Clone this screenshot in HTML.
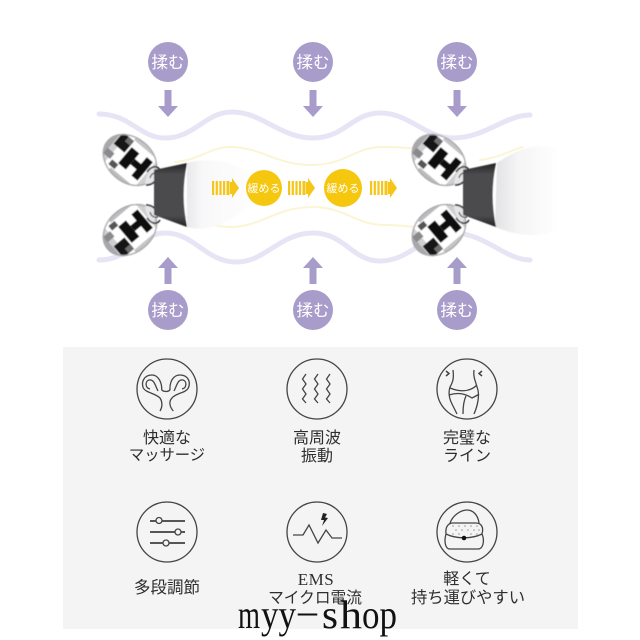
<!DOCTYPE html>
<html><head><meta charset="utf-8">
<style>
html,body{margin:0;padding:0;background:#fff}
svg{display:block}
text{font-family:"Liberation Sans","Noto Sans CJK JP",sans-serif}
.m{font-size:16.5px;fill:#fff;text-anchor:middle}
.y{font-size:11px;fill:#fff;text-anchor:middle}
.l{font-size:16px;fill:#2e2e2e;text-anchor:middle}
.i{fill:none;stroke:#444;stroke-width:1.3}
.w{font-family:"Liberation Serif","Noto Serif CJK SC",serif;font-size:40px;fill:#111}
</style></head><body>
<svg width="640" height="640" viewBox="0 0 640 640" xmlns="http://www.w3.org/2000/svg">
<defs>
<linearGradient id="hl" x1="0" x2="1" y1="0" y2="0"><stop offset="0" stop-color="#e9e9eb"/><stop offset=".2" stop-color="#f8f8f9"/><stop offset="1" stop-color="#fff"/></linearGradient>
<linearGradient id="hr" x1="0" x2="1" y1="0" y2="0"><stop offset="0" stop-color="#e2e2e5"/><stop offset=".35" stop-color="#f5f5f6"/><stop offset="1" stop-color="#fff"/></linearGradient>
<linearGradient id="neck" x1="0" x2="0" y1="0" y2="1"><stop offset="0" stop-color="#222224"/><stop offset=".18" stop-color="#4c4c4e"/><stop offset=".82" stop-color="#4c4c4e"/><stop offset="1" stop-color="#222224"/></linearGradient>
<filter id="b"><feGaussianBlur stdDeviation=".5"/></filter>
<clipPath id="bc"><ellipse cx="0" cy="0" rx="30" ry="23"/></clipPath>
<g id="ball">
<g clip-path="url(#bc)">
<ellipse cx="0" cy="0" rx="30" ry="23" fill="#fff"/>
<rect x="-30" y="-23" width="6" height="46" fill="#a8a8ab"/>
<rect x="-24" y="-23" width="6" height="46" fill="#cfcfd2"/>
<rect x="-23" y="-17" width="14" height="15" fill="#161616"/>
<rect x="-16" y="-17" width="7" height="6" fill="#6e6e70"/>
<rect x="-25" y="5" width="9" height="7" fill="#8a8a8d"/>
<rect x="-10" y="-23" width="30" height="5" fill="#c4c4c7"/>
<rect x="-10" y="18" width="30" height="5" fill="#bcbcbf"/>
<rect x="-7" y="-11" width="10" height="21" fill="#0f0f0f"/>
<rect x="3" y="-4" width="9" height="7" fill="#0f0f0f"/>
<rect x="11" y="-13" width="8" height="24" fill="#0f0f0f"/>
<rect x="-14" y="11" width="8" height="6" fill="#555"/>
<rect x="21" y="-16" width="9" height="32" fill="#cfcfd2"/>
</g>
<ellipse cx="0" cy="0" rx="29.300" ry="22.300" fill="none" stroke="#a8a8ac" stroke-width="1.300"/>
</g>
<g id="sil">
<path d="M145 184C151 186 157 181 157 175L153 168C149 170 146 176 145 184Z" fill="#e6e6e8"/>
<path d="M146 185C152 185 157 181 157 176" fill="none" stroke="#222" stroke-width="1.600"/>
<path d="M147 172C151 166 157 165 160 170" fill="none" stroke="#222" stroke-width="1.500"/>
<path d="M150 178C151 174 154 172 158 173" fill="none" stroke="#444" stroke-width="1.200"/>
</g>
<path id="ad" d="M-3.500 0h7v16h6.500l-10 11l-10 -11h6.500z" fill="#a89cca"/>
<g id="ya">
<rect x="0" y="-7" width="2.200" height="14" fill="#f5c518"/>
<rect x="3.700" y="-7" width="2.200" height="14" fill="#f5c518"/>
<rect x="7.400" y="-7" width="2.200" height="14" fill="#f5c518"/>
<rect x="11" y="-7" width="2.200" height="14" fill="#f5c518"/>
<rect x="14.500" y="-7" width="3" height="14" fill="#f5c518"/>
<path d="M18 -6h2v-4l7 10l-7 10v-4h-2z" fill="#f5c518"/>
</g>
</defs>

<rect x="63" y="347" width="515" height="282" fill="#f4f4f4"/>

<g fill="none" stroke-linecap="round">
<path d="M99 114C130 114 140 138 165 138C195 138 205 112 232 112C262 112 280 138 313 138C345 138 352 113 380 113C410 113 425 138 453 138C485 138 505 115 530 115" stroke="#e7e4f6" stroke-width="5"/>
<path d="M99 260C130 260 140 233 165 233C195 233 205 262 237 262C265 262 280 233 313 233C345 233 352 261 380 261C410 261 425 233 453 233C485 233 505 260 530 260" stroke="#e7e4f6" stroke-width="5"/>
<path d="M175 162C200 160 210 147 230 147C262 147 275 165 313 165C345 165 355 147 382 147C410 147 425 150 445 152M480 160C500 158 510 150 523 147" stroke="#fbf5d6" stroke-width="2"/>
<path d="M175 215C200 218 210 227 230 227C262 227 275 207 313 207C345 207 355 225 385 225C405 225 418 228 425 228" stroke="#fbf5d6" stroke-width="2"/>
</g>

<g>
<circle cx="168" cy="62" r="20" fill="#a89cca"/>
<circle cx="313" cy="62" r="20" fill="#a89cca"/>
<circle cx="457" cy="62" r="20" fill="#a89cca"/>
<circle cx="168" cy="310" r="20" fill="#a89cca"/>
<circle cx="313" cy="310" r="20" fill="#a89cca"/>
<circle cx="457" cy="310" r="20" fill="#a89cca"/>
<use href="#ad" x="168" y="90"/><use href="#ad" x="313" y="90"/><use href="#ad" x="457" y="90"/>
<use href="#ad" transform="translate(168 284) scale(1 -1)"/>
<use href="#ad" transform="translate(313 284) scale(1 -1)"/>
<use href="#ad" transform="translate(457 284) scale(1 -1)"/>
</g>
<text class="m" x="168" y="68">揉む</text><text class="m" x="313" y="68">揉む</text><text class="m" x="457" y="68">揉む</text>
<text class="m" x="168" y="316">揉む</text><text class="m" x="313" y="316">揉む</text><text class="m" x="457" y="316">揉む</text>

<g filter="url(#b)">
<path d="M187 163C215 155 250 165 262 188C250 212 215 235 187 227Z" fill="url(#hl)"/>
<path d="M497 163C515 150 540 140 560 150V228C540 240 515 235 495 227Z" fill="url(#hr)"/>
<g id="rol">
<use href="#ball" transform="translate(130 160) rotate(40)"/>
<use href="#ball" transform="translate(130 230) rotate(-40) scale(1 -1)"/>
<use href="#sil"/>
<use href="#sil" transform="translate(0 390) scale(1 -1)"/>
<path d="M154 170L187 163Q180 195 187 227L154 215Z" fill="url(#neck)"/>
</g>
<use href="#rol" x="309"/>
</g>

<circle cx="264" cy="188" r="18" fill="#f6c70f"/>
<circle cx="343" cy="188" r="19" fill="#f6c70f"/>
<text class="y" x="264" y="192">緩める</text>
<text class="y" x="343" y="192">緩める</text>
<use href="#ya" x="212" y="188"/><use href="#ya" x="288" y="188"/><use href="#ya" x="370" y="188"/>

<g class="i">
<circle cx="167" cy="389" r="30"/><circle cx="317" cy="389" r="30"/><circle cx="467" cy="389" r="30"/>
<circle cx="167" cy="532" r="30"/><circle cx="317" cy="532" r="30"/><circle cx="467" cy="532" r="30"/>

<path d="M161.700 390C162 382 158 375 152 375C144 375 141 382 143.300 388C146 393 155 393 160 398C162 401 163 406 160 411"/>
<path d="M170 390C169.500 382 173 375 180 375C188 375 191 382 188.300 388C186 393 176 393 172 398C169 401 169 406 173.300 411"/>
<path d="M161.700 390C164 392 168 392 170 390"/>
<path d="M158 391C155 385 154 379 149 380C145 381 145 388 150 389M174 391C177 385 178 379 183 380C187 381 187 388 182 389"/>

<path d="M306 374l-3.500 5l3.500 5l-3.500 5l3.500 5l-3.500 5l3.500 4M318 374l-3.500 5l3.500 5l-3.500 5l3.500 5l-3.500 5l3.500 4M330 374l-3.500 5l3.500 5l-3.500 5l3.500 5l-3.500 5l3.500 4"/>

<path d="M453 370C454 378 453 382 450 387C448 393 449 398 452 404L457 414M474 370C473 378 476 382 477 387C480 394 478 405 474 414M450 388C460 392 470 392 477 385M449 395C458 392 466 394 472 398C476 396 478 395 479 394M463 414C463 406 464 400 466 396"/>
<path d="M446 371l3 2.500l-3 2.500M482 371l-3 2.500l3 2.500" stroke-width="1.500"/>

<path d="M150 521H185M150 532H185M150 543H185" stroke="#222" stroke-width="1.500"/>
<circle cx="159" cy="520.500" r="3" fill="#f4f4f4"/><circle cx="178" cy="532" r="3" fill="#f4f4f4"/><circle cx="166" cy="543" r="3" fill="#f4f4f4"/>

<path d="M293 535H303L309 525L318 543L326 530L332 538H342"/>

<path d="M450 523C453 515 461 510 467 510C473 510 478 515 479 523"/>
<path d="M446 534C445 526 449 523 453 523H476C481 523 484 527 482 534C485 541 483 549 478 549H450C445 549 444 541 446 534Z" fill="#f4f4f4"/>
<path d="M446 534C456 539 472 539 482 534"/>
</g>
<path d="M323 513L327 514L325 517.500L328 518L322 526L324 520L321 520Z" fill="#222"/>
<g fill="#999">
<circle cx="453" cy="526" r=".8"/><circle cx="459" cy="526" r=".8"/><circle cx="465" cy="526" r=".8"/><circle cx="471" cy="526" r=".8"/><circle cx="477" cy="526" r=".8"/>
<circle cx="456" cy="530" r=".8"/><circle cx="462" cy="530" r=".8"/><circle cx="468" cy="530" r=".8"/><circle cx="474" cy="530" r=".8"/><circle cx="479" cy="530" r=".8"/>
<circle cx="453" cy="534" r=".8"/><circle cx="459" cy="534" r=".8"/><circle cx="471" cy="534" r=".8"/><circle cx="477" cy="534" r=".8"/>
</g>
<circle cx="464" cy="538" r="2.300" fill="#111"/>

<text class="l" x="167" y="443">快適な</text>
<text class="l" x="167" y="460" style="font-size:15.300px">マッサージ</text>
<text class="l" x="317" y="443">高周波</text>
<text class="l" x="317" y="461">振動</text>
<text class="l" x="467" y="443">完璧な</text>
<text class="l" x="467" y="461">ライン</text>
<text class="l" x="167" y="593" style="font-size:16.500px">多段調節</text>
<text class="l" x="316" y="585" style="font-family:'Liberation Serif',serif;font-size:17px;letter-spacing:.5px">EMS</text>
<text class="l" x="315" y="603" style="font-size:15.700px">マイクロ電流</text>
<text class="l" x="467" y="584">軽くて</text>
<text class="l" x="468" y="603" style="font-size:16.300px">持ち運びやすい</text>

<text class="w" x="238" y="628" textLength="22" lengthAdjust="spacingAndGlyphs">m</text>
<text class="w" x="261" y="628" textLength="35" lengthAdjust="spacingAndGlyphs">yy</text>
<text class="w" x="298" y="624" textLength="19" lengthAdjust="spacingAndGlyphs">–</text>
<text class="w" x="322" y="628" textLength="16" lengthAdjust="spacingAndGlyphs">s</text>
<text class="w" x="340" y="628" textLength="22" lengthAdjust="spacingAndGlyphs">h</text>
<text class="w" x="362" y="628" textLength="35" lengthAdjust="spacingAndGlyphs">op</text>
</svg>
</body></html>
